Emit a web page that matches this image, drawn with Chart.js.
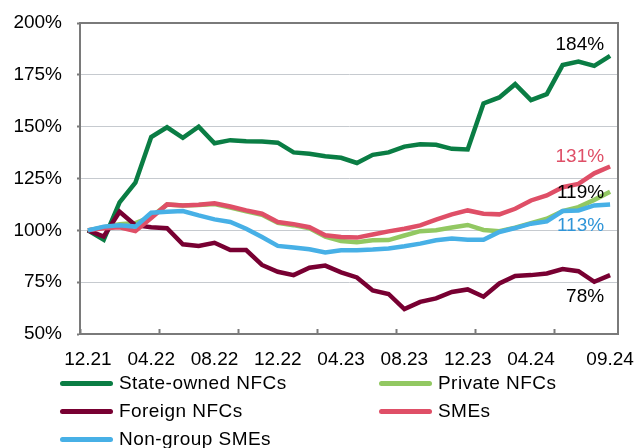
<!DOCTYPE html>
<html>
<head>
<meta charset="utf-8">
<script src="https://cdn.jsdelivr.net/npm/chart.js@4.4.1/dist/chart.umd.min.js"></script>
<style>
body{margin:0;background:#fff;}
#wrap{position:relative;width:635px;height:448px;overflow:hidden;font-family:"Liberation Sans",Arial,sans-serif;}
#legend{position:absolute;left:0;top:0;width:635px;height:448px;}
.item{position:absolute;display:flex;align-items:center;height:22px;font-size:19px;letter-spacing:0.45px;color:#000;white-space:nowrap;}
.swatch{width:53px;height:5px;border-radius:3px;margin-right:6px;}
</style>
</head>
<body>
<div id="wrap">
<canvas id="chart" width="635" height="448"></canvas>
<div id="legend"></div>
</div>
<script>
const months = ["12.21","01.22","02.22","03.22","04.22","05.22","06.22","07.22","08.22","09.22","10.22","11.22",
    "12.22","01.23","02.23","03.23","04.23","05.23","06.23","07.23","08.23","09.23","10.23","11.23",
    "12.23","01.24","02.24","03.24","04.24","05.24","06.24","07.24","08.24","09.24"];

const shownMonths = ["12.21","04.22","08.22","12.22","04.23","08.23","12.23","04.24","09.24"];

const seriesNames = ["State-owned NFCs","Private NFCs","Foreign NFCs","SMEs","Non-group SMEs"];
const seriesColors = ["#0a7d44","#92c862","#780032","#df4f67","#47b0e6"];

const stateOwned = [100,95.5,113.5,123,145,149.7,144.6,150,142,143.5,143,142.8,142.3,137.6,136.9,135.7,135,
    132.5,136.4,137.6,140.4,141.5,141.3,139.3,139,161.2,164.1,170.5,162.8,165.7,179.7,181.4,179.3,184.1];
const privateNfc = [100,101.5,103,103.5,106.5,112.4,112,112.2,112.7,111,109.2,107.5,103.6,102.5,101,97,94.9,
    94.3,95.2,95.3,97.5,99.6,100,101.4,102.6,100.2,99.6,101.3,103.5,105.6,109.3,111.2,114.7,118.6];
const foreignNfc = [100,97,109,102.5,101.5,101,93.3,92.5,94,90.5,90.5,83.3,80,78.4,82,83,79.7,77.3,71,69.3,
    62,65.5,67.2,70.3,71.5,68,74.4,78,78.4,79.2,81.3,80.3,75.2,78.4];
const smes = [100,101,101.5,99.7,106,112.5,112,112.3,113,111.5,109.6,108,104,103,101.5,97.6,96.8,96.5,98,
    99.5,100.8,102.4,105.2,107.7,109.6,108,107.7,110.4,114.4,116.8,120.8,122.4,127.5,130.8];
const nonGroupSmes = [100,101.8,102.5,101.8,108.5,109,109.3,107.2,105.3,104,100.8,96.8,92.5,91.7,90.9,89.3,
    90.4,90.4,90.7,91.2,92.3,93.6,95.2,96,95.5,95.5,99.2,101.1,103.2,104.3,109.3,109.6,112,112.5];

const yTicks = [50,75,100,125,150,175,200];

const allSeries = [stateOwned, privateNfc, foreignNfc, smes, nonGroupSmes];

const FONT = "'Liberation Sans', Arial, sans-serif";

// end-of-line value labels
const endLabels = [
    {ds:0, color:'#000', dy:-11},
    {ds:1, color:'#000', dy:1},
    {ds:2, color:'#000', dy:22},
    {ds:3, color:'#df4f67', dy:-10},
    {ds:4, color:'#2f95d8', dy:21}
];

const boxPlugin = {
    id:'box',
    beforeDatasetsDraw(chart){
        const a = chart.chartArea;
        const c = chart.ctx;
        c.save();
        c.strokeStyle = '#7a7a7a';
        c.lineWidth = 2;
        c.beginPath();
        c.moveTo(a.left, a.top);
        c.lineTo(a.right, a.top);
        c.lineTo(a.right, a.bottom);
        c.stroke();
        c.restore();
    }
};

const labelPlugin = {
    id:'endLabels',
    afterDatasetsDraw(chart){
        const c = chart.ctx;
        c.save();
        c.font = "19px " + FONT;
        c.textAlign = 'right';
        c.textBaseline = 'middle';
        endLabels.forEach(l => {
            const meta = chart.getDatasetMeta(l.ds);
            const pt = meta.data[meta.data.length - 1];
            const v = allSeries[l.ds][allSeries[l.ds].length - 1];
            c.fillStyle = l.color;
            c.fillText(Math.round(v) + '%', pt.x - 6, pt.y + l.dy);
        });
        c.restore();
    }
};

const chart = new Chart(document.getElementById('chart'), {
    type:'line',
    data:{
        labels: months,
        datasets: allSeries.map((s, i) => ({
            label: seriesNames[i],
            data: s,
            borderColor: seriesColors[i],
            borderWidth: 4.5,
            pointRadius: 0,
            tension: 0,
            fill: false,
            order: allSeries.length - i
        }))
    },
    plugins:[boxPlugin, labelPlugin],
    options:{
        responsive:false,
        animation:false,
        layout:{padding:{left:0, right:17, top:23, bottom:78}},
        plugins:{legend:{display:false}, tooltip:{enabled:false}},
        scales:{
            x:{
                offset:true,
                afterFit:(s) => { s.paddingLeft = 0; s.paddingRight = 0; s.height = 36; },
                grid:{
                    offset:true,
                    drawOnChartArea:false,
                    tickLength:-5,
                    tickWidth:2,
                    tickColor:(ctx) => (ctx.tick && ctx.index % 5 === 0) ? '#7a7a7a' : 'rgba(0,0,0,0)',
                    color:'rgba(0,0,0,0)'
                },
                border:{color:'#7a7a7a', width:2},
                ticks:{
                    autoSkip:false,
                    maxRotation:0,
                    minRotation:0,
                    padding:19,
                    color:'#000',
                    font:{size:19, family:FONT},
                    callback:(v, i) => shownMonths.includes(months[i]) ? months[i] : ''
                }
            },
            y:{
                min:50,
                max:200,
                afterBuildTicks:(s) => { s.ticks = yTicks.map(v => ({value:v})); },
                afterFit:(s) => { s.width = 80; s.paddingTop = 0; s.paddingBottom = 0; },
                grid:{color:'#c6cacf', lineWidth:1, tickLength:3, tickColor:'#7a7a7a', tickWidth:2},
                border:{color:'#7a7a7a', width:2},
                ticks:{
                    padding:15,
                    color:'#000',
                    font:{size:19, family:FONT},
                    callback:(v) => v + '%'
                }
            }
        }
    }
});

const legend = document.getElementById('legend');
seriesNames.forEach((name, i) => {
    const item = document.createElement('div');
    item.className = 'item';
    item.style.left = (i % 2 ? 379 : 60) + 'px';
    item.style.top = (372 + Math.floor(i / 2) * 28) + 'px';
    item.innerHTML = '<span class="swatch" style="background:' + seriesColors[i] + '"></span>' + name;
    legend.appendChild(item);
});
</script>
</body>
</html>
